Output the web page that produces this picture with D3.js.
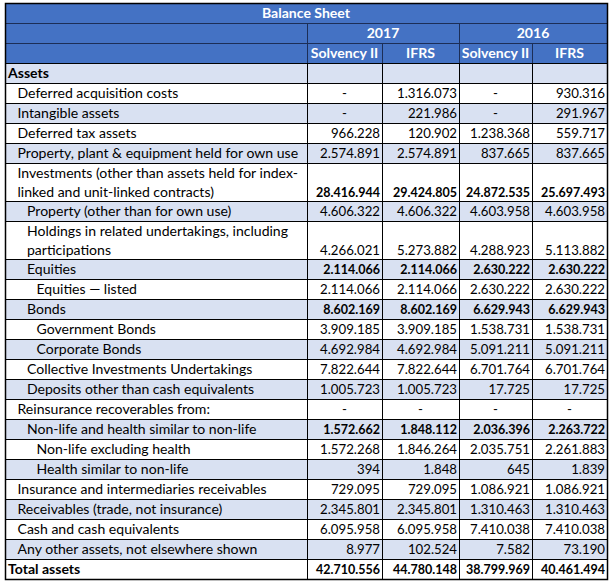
<!DOCTYPE html>
<html><head><meta charset="utf-8">
<script src="https://cdn.jsdelivr.net/npm/d3@7"></script>
<style>body{margin:0;background:#fff}</style>
</head><body>
<svg id="c" width="614" height="584"></svg>
<script>
// ---------- DATA ----------
const title = "Balance Sheet";
const years = ["2017", "2016"];
const bases = ["Solvency II", "IFRS"];
const sectionLabel = "Assets";
const labels = [
  "Deferred acquisition costs",
  "Intangible assets",
  "Deferred tax assets",
  "Property, plant & equipment held for own use",
  "Investments (other than assets held for index-\nlinked and unit-linked contracts)",
  "Property (other than for own use)",
  "Holdings in related undertakings, including\nparticipations",
  "Equities",
  "Equities \u2014 listed",
  "Bonds",
  "Government Bonds",
  "Corporate Bonds",
  "Collective Investments Undertakings",
  "Deposits other than cash equivalents",
  "Reinsurance recoverables from:",
  "Non-life and health similar to non-life",
  "Non-life excluding health",
  "Health similar to non-life",
  "Insurance and intermediaries receivables",
  "Receivables (trade, not insurance)",
  "Cash and cash equivalents",
  "Any other assets, not elsewhere shown",
  "Total assets"
];
const levels = [1,1,1,1,1,2,2,2,3,2,3,3,2,2,1,2,3,3,1,1,1,1,0];
const boldRows = [false,false,false,false,true,false,false,true,false,true,false,false,false,false,false,true,false,false,false,false,false,false,true];
const sii2017 = [null,null,966228,2574891,28416944,4606322,4266021,2114066,2114066,8602169,3909185,4692984,7822644,1005723,null,1572662,1572268,394,729095,2345801,6095958,8977,42710556];
const ifrs2017 = [1316073,221986,120902,2574891,29424805,4606322,5273882,2114066,2114066,8602169,3909185,4692984,7822644,1005723,null,1848112,1846264,1848,729095,2345801,6095958,102524,44780148];
const sii2016 = [null,null,1238368,837665,24872535,4603958,4288923,2630222,2630222,6629943,1538731,5091211,6701764,17725,null,2036396,2035751,645,1086921,1310463,7410038,7582,38799969];
const ifrs2016 = [930316,291967,559717,837665,25697493,4603958,5113882,2630222,2630222,6629943,1538731,5091211,6701764,17725,null,2263722,2261883,1839,1086921,1310463,7410038,73190,40461494];

// ---------- LAYOUT ----------
const series = [sii2017, ifrs2017, sii2016, ifrs2016];
const colEdges = [5, 307, 382, 459, 532, 607];
const top0 = 3, rowH = 20, lineH = 19;
const headerBlue = "#4472C4", band = "#D9E1F2", headLine = "#1c2e57";
const FONT = "Lato, 'Open Sans', sans-serif";

const svg = d3.select("#c");
const fmt = d3.formatLocale({decimal: ",", thousands: ".", grouping: [3], currency: ["", ""]}).format(",d");

function measure(str, weight, size) {
  const p = svg.append("text").attr("font-family", FONT).attr("font-size", size || 100).attr("font-weight", weight).text(str);
  const w = p.node().getComputedTextLength();
  p.remove();
  return w;
}
// fit font sizes to the Calibri-like widths of the reference
const fs = Math.min(15, 100 * 161 / measure(labels[0], "normal"));
const fsNum = Math.min(fs, 100 * 60 / measure("1.238.368", "normal"));
const boldSqueeze = Math.min(1, 64 / measure("28.416.944", "bold", fsNum));

// rows
const bodyRows = [{label: sectionLabel, level: 0, bold: true, vals: null}]
  .concat(labels.map((l, i) => ({label: l, level: levels[i], bold: boldRows[i], vals: series.map(s => s[i])})));
let y = top0 + rowH * 3;
bodyRows.forEach((r, i) => {
  r.lines = r.label.split("\n");
  r.y = y;
  r.h = r.lines.length > 1 ? rowH + 18 : rowH;
  r.band = i % 2 === 0;
  y += r.h;
});
const bottom = y;

// header background
svg.append("rect").attr("x", colEdges[0]).attr("y", top0).attr("width", colEdges[5] - colEdges[0]).attr("height", rowH * 3).attr("fill", headerBlue);

// body backgrounds
svg.selectAll("rect.row").data(bodyRows).join("rect").attr("class", "row")
  .attr("x", colEdges[0]).attr("y", d => d.y).attr("width", colEdges[5] - colEdges[0]).attr("height", d => d.h)
  .attr("fill", d => d.band ? band : "#fff");

// header lines
const hl = svg.append("g").attr("stroke", headLine).attr("stroke-width", 1).attr("shape-rendering", "crispEdges");
[1, 2].forEach(k => hl.append("line").attr("x1", colEdges[0]).attr("x2", colEdges[5]).attr("y1", top0 + rowH * k + 0.5).attr("y2", top0 + rowH * k + 0.5));
[1, 3].forEach(c => hl.append("line").attr("x1", colEdges[c] + 0.5).attr("x2", colEdges[c] + 0.5).attr("y1", top0 + rowH).attr("y2", top0 + rowH * 3));
[2, 4].forEach(c => hl.append("line").attr("x1", colEdges[c] + 0.5).attr("x2", colEdges[c] + 0.5).attr("y1", top0 + rowH * 2).attr("y2", top0 + rowH * 3));

// body lines
const bl = svg.append("g").attr("stroke", "#000").attr("stroke-width", 1).attr("shape-rendering", "crispEdges");
bodyRows.forEach(r => bl.append("line").attr("x1", colEdges[0]).attr("x2", colEdges[5]).attr("y1", r.y + 0.5).attr("y2", r.y + 0.5));
[1, 2, 3, 4].forEach(c => bl.append("line").attr("x1", colEdges[c] + 0.5).attr("x2", colEdges[c] + 0.5).attr("y1", top0 + rowH * 3).attr("y2", bottom));
// outer border
svg.append("rect").attr("x", colEdges[0] + 0.5).attr("y", top0 + 0.5).attr("width", colEdges[5] - colEdges[0]).attr("height", bottom - top0)
  .attr("fill", "none").attr("stroke", "#000").attr("stroke-width", 1.5);

// header text
const ht = svg.append("g").attr("font-family", FONT).attr("font-size", fs).attr("font-weight", "bold").attr("fill", "#fff").attr("text-anchor", "middle");
ht.append("text").attr("x", (colEdges[0] + colEdges[5]) / 2).attr("y", top0 + 15).text(title);
years.forEach((yr, k) => ht.append("text").attr("x", (colEdges[1 + 2 * k] + colEdges[3 + 2 * k]) / 2).attr("y", top0 + rowH + 15).text(yr));
for (let c = 0; c < 4; c++) {
  ht.append("text").attr("x", (colEdges[c + 1] + colEdges[c + 2]) / 2).attr("y", top0 + rowH * 2 + 15).text(bases[c % 2]);
}

// body text
const bt = svg.append("g").attr("font-family", FONT).attr("font-size", fs).attr("fill", "#000");
bodyRows.forEach((r, i) => {
  const lx = colEdges[0] + 3 + r.level * 9.5;
  r.lines.forEach((ln, j) => {
    bt.append("text").attr("x", lx).attr("y", r.y + 15 + j * lineH)
      .attr("font-weight", (i === 0 || i === bodyRows.length - 1) ? "bold" : "normal").text(ln);
  });
  if (!r.vals) return;
  const vy = r.y + 15 + (r.lines.length - 1) * lineH;
  r.vals.forEach((v, c) => {
    const t = bt.append("text").attr("y", vy).attr("font-weight", r.bold ? "bold" : "normal")
      .attr("font-size", fsNum);
    if (v == null) {
      t.attr("x", (colEdges[c + 1] + colEdges[c + 2]) / 2).attr("text-anchor", "middle").text("-");
    } else {
      t.attr("x", colEdges[c + 2] - 2).attr("text-anchor", "end").text(fmt(v));
      if (r.bold && boldSqueeze < 1) {
        const w = t.node().getComputedTextLength();
        t.attr("textLength", w * boldSqueeze).attr("lengthAdjust", "spacingAndGlyphs");
      }
    }
  });
});
</script>
</body></html>
